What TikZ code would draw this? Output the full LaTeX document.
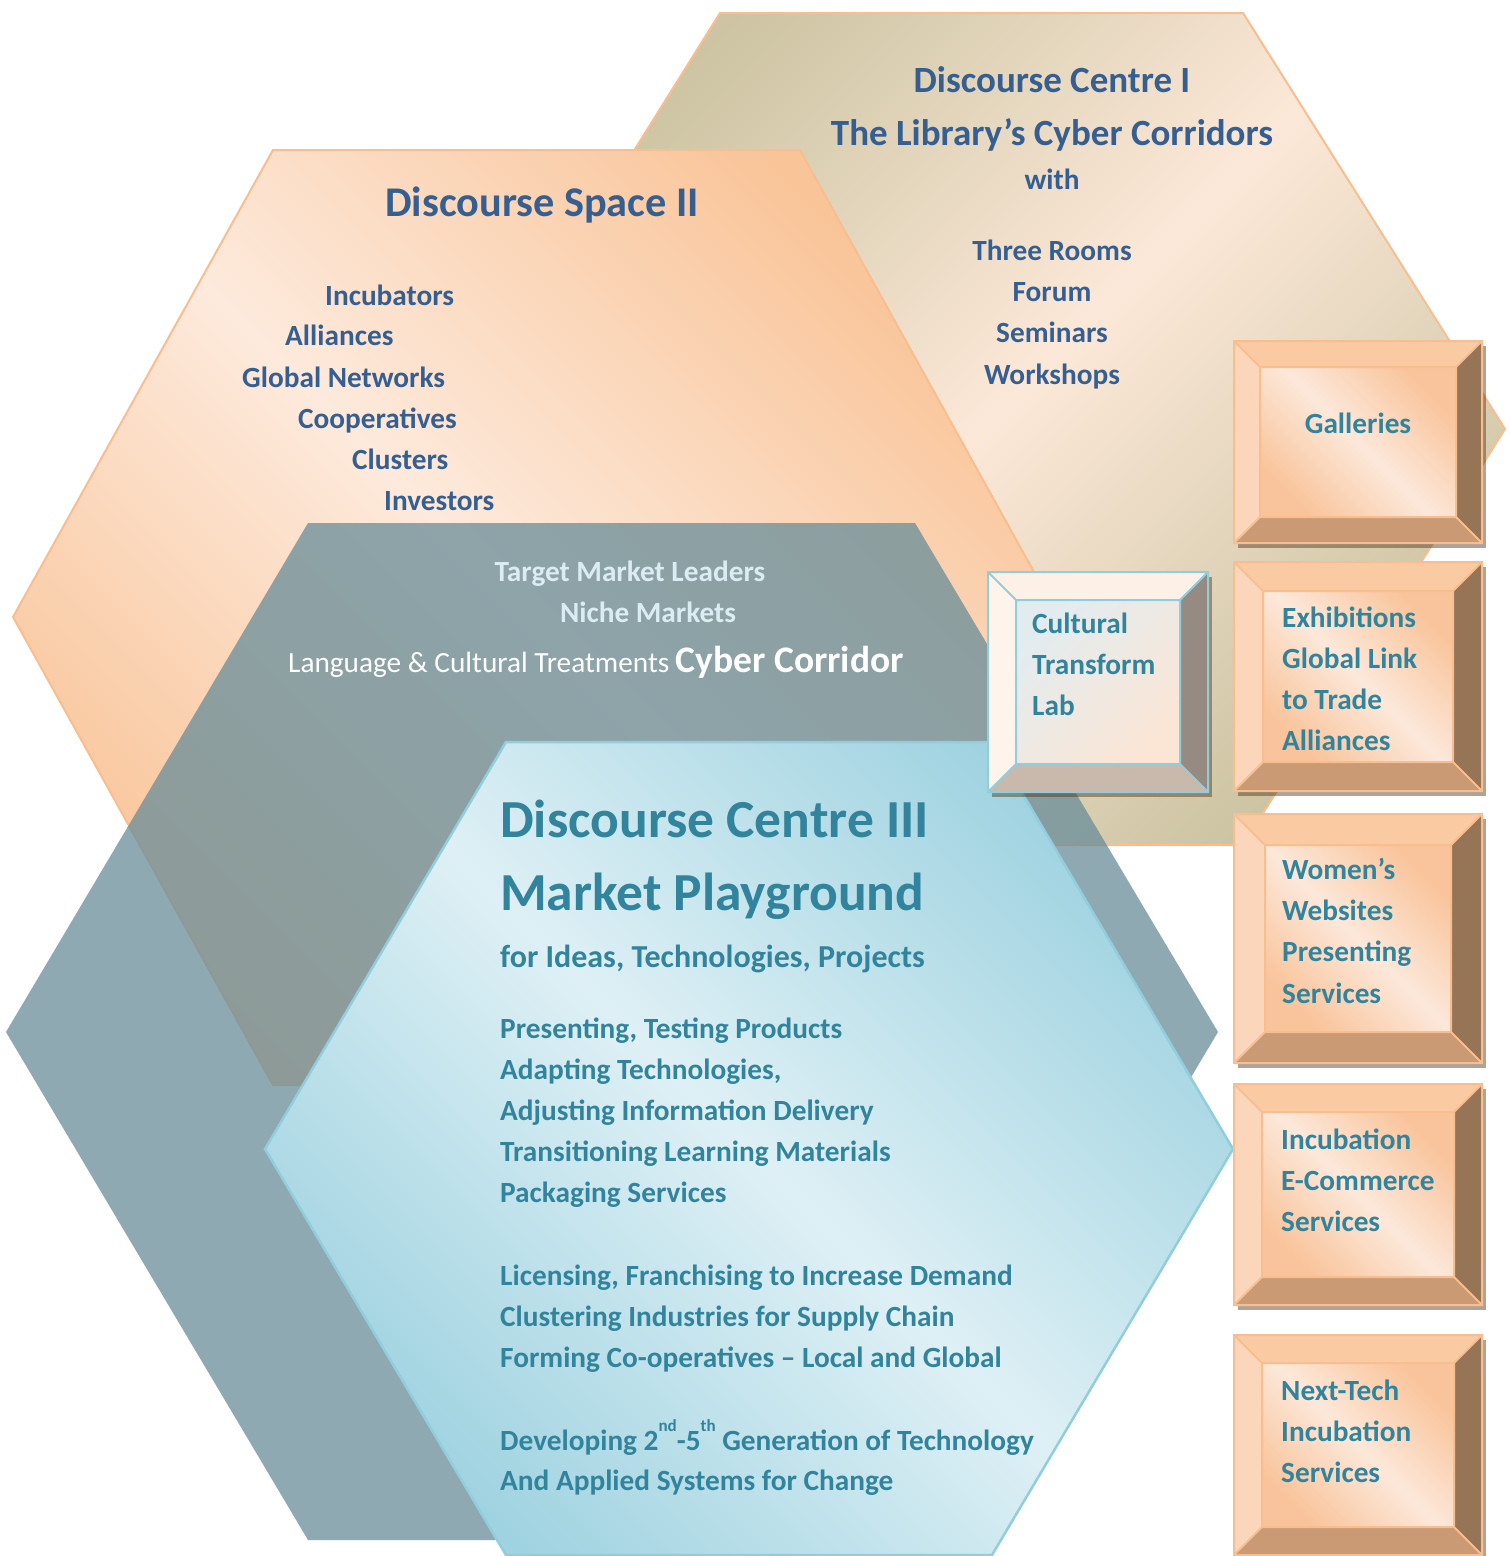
\documentclass[tikz,border=0pt]{standalone}
\usepackage{fontspec}
\setmainfont{Carlito}
\definecolor{hexLine}{RGB}{249,190,143}
\definecolor{dcTan}{RGB}{204,196,162}
\definecolor{dcLight}{RGB}{252,232,216}
\definecolor{dsSat}{RGB}{249,196,152}
\definecolor{dsLight}{RGB}{253,234,220}
\definecolor{grayHex}{RGB}{105,141,153}
\definecolor{cSat}{RGB}{160,211,225}
\definecolor{cLight}{RGB}{222,240,245}
\definecolor{cLine}{RGB}{146,205,220}
\definecolor{darkBlue}{RGB}{54,95,145}
\definecolor{tealText}{RGB}{49,132,155}
\definecolor{paleText}{RGB}{219,236,242}
% bevel box colours (orange)
\definecolor{oTop}{RGB}{250,202,163}
\definecolor{oLeft}{RGB}{251,214,186}
\definecolor{oRight}{RGB}{150,116,86}
\definecolor{oBot}{RGB}{201,154,115}
\definecolor{oSat}{RGB}{249,196,155}
\definecolor{oLight}{RGB}{252,232,218}
\definecolor{oLine}{RGB}{249,190,143}
% bevel box colours (cultural lab)
\definecolor{bTop}{RGB}{253,240,230}
\definecolor{bLeft}{RGB}{254,244,236}
\definecolor{bRight}{RGB}{150,139,130}
\definecolor{bBot}{RGB}{201,185,172}
\definecolor{bA}{RGB}{226,236,239}
\definecolor{bB}{RGB}{251,230,214}
\definecolor{bLine}{RGB}{146,205,220}
\tikzset{
  tA/.style={font=\fontsize{29.3}{35}\selectfont\bfseries, inner sep=0pt},
  tTitle/.style={font=\fontsize{37}{44}\selectfont\bfseries, inner sep=0pt},
  tBig/.style={font=\fontsize{53.5}{60}\selectfont\bfseries, inner sep=0pt},
  blueT/.style={text=darkBlue},
  tealT/.style={text=tealText},
  paleT/.style={text=paleText},
  hexEdge/.style={draw=hexLine, line width=2pt},
}
\newcommand{\supx}[1]{\raisebox{0.62em}{\fontsize{17}{20}\selectfont #1}}
% #1 x1, #2 y1, #3 x2, #4 y2, #5 bevel, #6 prefix (o or b), #7 inner shading
\newcommand{\bevbox}[7]{%
  \fill[black!60!brown, opacity=0.45] (#1+4,#2+5) rectangle (#3+4,#4+5);
  \fill[#6Top] (#1,#2) -- (#3,#2) -- (#3-#5,#2+#5) -- (#1+#5,#2+#5) -- cycle;
  \fill[#6Left] (#1,#2) -- (#1+#5,#2+#5) -- (#1+#5,#4-#5) -- (#1,#4) -- cycle;
  \fill[#6Right] (#3,#2) -- (#3,#4) -- (#3-#5,#4-#5) -- (#3-#5,#2+#5) -- cycle;
  \fill[#6Bot] (#1,#4) -- (#3,#4) -- (#3-#5,#4-#5) -- (#1+#5,#4-#5) -- cycle;
  \shade[#7] (#1+#5,#2+#5) rectangle (#3-#5,#4-#5);
  \draw[#6Line, line width=2pt, line join=miter]
    (#1,#2) rectangle (#3,#4)
    (#1+#5,#2+#5) rectangle (#3-#5,#4-#5)
    (#1,#2) -- (#1+#5,#2+#5)
    (#3,#2) -- (#3-#5,#2+#5)
    (#1,#4) -- (#1+#5,#4-#5)
    (#3,#4) -- (#3-#5,#4-#5);
}
\begin{document}
\begin{tikzpicture}[x=1pt,y=-1pt]
\useasboundingbox (0,0) rectangle (1510,1556);
\fill[white] (0,0) rectangle (1510,1556);

% Discourse Centre I
\shadedraw[top color=dcTan, bottom color=dcTan, middle color=dcLight, shading angle=45, hexEdge]
  (720,13) -- (1243,13) -- (1505,429) -- (1243,845) -- (720,845) -- (460,429) -- cycle;

% Discourse Space II
\shadedraw[top color=dsSat, bottom color=dsSat, middle color=dsLight, shading angle=-45, hexEdge]
  (273,150) -- (800,150) -- (1059,617) -- (800,1085) -- (273,1085) -- (13,617) -- cycle;

% Cyber corridor (grey)
\fill[grayHex, opacity=0.75]
  (308,523) -- (915,523) -- (1218,1032) -- (915,1540) -- (308,1540) -- (6,1032) -- cycle;

% Discourse Centre III
\shadedraw[top color=cSat, bottom color=cSat, middle color=cLight, shading angle=-45, draw=cLine, line width=2.5pt]
  (506,742) -- (992,742) -- (1233,1149) -- (992,1555) -- (506,1555) -- (265,1149) -- cycle;

% ---- texts: Discourse Centre I
\node[tTitle, blueT, anchor=base] (dc1a) at (1052,92) {Discourse Centre I};
\node[tTitle, blueT, anchor=base] (dc1b) at (1052,145) {The Library’s Cyber Corridors};
\node[tA, blueT, anchor=base] (dc1c) at (1052,189) {with};
\node[tA, blueT, anchor=base] (dc1d) at (1052,260) {Three Rooms};
\node[tA, blueT, anchor=base] (dc1e) at (1052,301) {Forum};
\node[tA, blueT, anchor=base] (dc1f) at (1052,342) {Seminars};
\node[tA, blueT, anchor=base] (dc1g) at (1052,384) {Workshops};

% ---- texts: Discourse Space II
\node[font=\fontsize{42.3}{50}\selectfont\bfseries, inner sep=0pt, blueT, anchor=base] (ds2a) at (542,216) {Discourse Space II};
\node[tA, blueT, anchor=base west] (ds2b) at (325,305) {Incubators};
\node[tA, blueT, anchor=base west] (ds2c) at (285,345) {Alliances};
\node[tA, blueT, anchor=base west] (ds2d) at (242,387) {Global Networks};
\node[tA, blueT, anchor=base west] (ds2e) at (298,428) {Cooperatives};
\node[tA, blueT, anchor=base west] (ds2f) at (352,469) {Clusters};
\node[tA, blueT, anchor=base west] (ds2g) at (384,510) {Investors};

% ---- texts: grey corridor
\node[tA, paleT, anchor=base] (cc1) at (630,581) {Target Market Leaders};
\node[tA, paleT, anchor=base] (cc2) at (648,622) {Niche Markets};
\node[inner sep=0pt, text=white, anchor=base west] (cc3) at (288,672)
  {\fontsize{29.3}{35}\selectfont Language \& Cultural Treatments {\fontsize{37.5}{44}\selectfont\bfseries Cyber Corridor}};

% ---- texts: Discourse Centre III
\node[tBig, tealT, anchor=base west] (c3a) at (500,837) {Discourse Centre III};
\node[tBig, tealT, anchor=base west] (c3b) at (500,910) {Market Playground};
\node[font=\fontsize{32}{38}\selectfont\bfseries, inner sep=0pt, tealT, anchor=base west] (c3c) at (500,967) {for Ideas, Technologies, Projects};
\node[tA, tealT, anchor=base west] (c3d) at (500,1038) {Presenting, Testing Products};
\node[tA, tealT, anchor=base west] (c3e) at (500,1079) {Adapting Technologies,};
\node[tA, tealT, anchor=base west] (c3f) at (500,1120) {Adjusting Information Delivery};
\node[tA, tealT, anchor=base west] (c3g) at (500,1161) {Transitioning Learning Materials};
\node[tA, tealT, anchor=base west] (c3h) at (500,1202) {Packaging Services};
\node[tA, tealT, anchor=base west] (c3i) at (500,1285) {Licensing, Franchising to Increase Demand};
\node[tA, tealT, anchor=base west] (c3j) at (500,1326) {Clustering Industries for Supply Chain};
\node[tA, tealT, anchor=base west] (c3k) at (500,1367) {Forming Co-operatives – Local and Global};
\node[tA, tealT, anchor=base west] (c3l) at (500,1450) {Developing 2\supx{nd}-5\supx{th} Generation of Technology};
\node[tA, tealT, anchor=base west] (c3m) at (500,1490) {And Applied Systems for Change};

% ---- bevel boxes
\bevbox{1234}{341}{1482}{543}{26}{o}{top color=oSat, bottom color=oSat, middle color=oLight, shading angle=-45}
\bevbox{1234}{562}{1482}{791}{29}{o}{top color=oSat, bottom color=oSat, middle color=oLight, shading angle=-45}
\bevbox{1234}{814}{1482}{1063}{31}{o}{top color=oSat, bottom color=oSat, middle color=oLight, shading angle=-45}
\bevbox{1234}{1084}{1482}{1305}{28}{o}{top color=oSat, bottom color=oSat, middle color=oLight, shading angle=-45}
\bevbox{1234}{1335}{1482}{1555}{28}{o}{top color=oSat, bottom color=oSat, middle color=oLight, shading angle=-45}
\bevbox{988}{572}{1208}{792}{28}{b}{top color=bA, bottom color=bB, shading angle=45}

\node[tA, tealT, anchor=base] (g1) at (1358,433) {Galleries};
\node[tA, tealT, anchor=base west] (e1) at (1282,627) {Exhibitions};
\node[tA, tealT, anchor=base west] (e2) at (1282,668) {Global Link};
\node[tA, tealT, anchor=base west] (e3) at (1282,709) {to Trade};
\node[tA, tealT, anchor=base west] (e4) at (1282,750) {Alliances};
\node[tA, tealT, anchor=base west] (w1) at (1282,879) {Women’s};
\node[tA, tealT, anchor=base west] (w2) at (1282,920) {Websites};
\node[tA, tealT, anchor=base west] (w3) at (1282,961) {Presenting};
\node[tA, tealT, anchor=base west] (w4) at (1282,1003) {Services};
\node[tA, tealT, anchor=base west] (i1) at (1281,1149) {Incubation};
\node[tA, tealT, anchor=base west] (i2) at (1281,1190) {E-Commerce};
\node[tA, tealT, anchor=base west] (i3) at (1281,1231) {Services};
\node[tA, tealT, anchor=base west] (n1) at (1281,1400) {Next-Tech};
\node[tA, tealT, anchor=base west] (n2) at (1281,1441) {Incubation};
\node[tA, tealT, anchor=base west] (n3) at (1281,1482) {Services};
\node[tA, tealT, anchor=base west] (l1) at (1032,633) {Cultural};
\node[tA, tealT, anchor=base west] (l2) at (1032,674) {Transform};
\node[tA, tealT, anchor=base west] (l3) at (1032,715) {Lab};
\end{tikzpicture}
\end{document}
